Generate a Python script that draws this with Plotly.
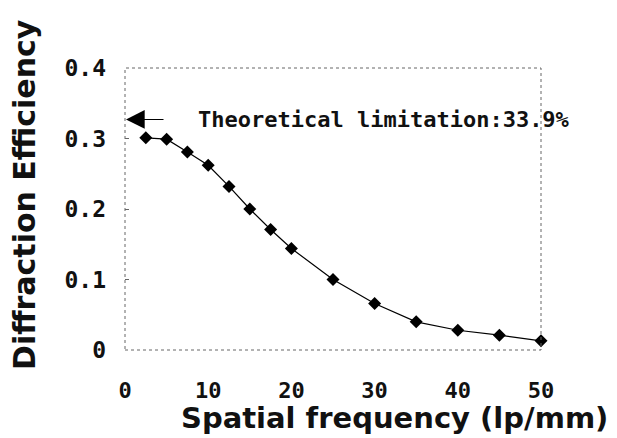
import plotly.graph_objects as go

freq = [2.5, 5, 7.5, 10, 12.5, 15, 17.5, 20, 25, 30, 35, 40, 45, 50]
efficiency = [0.301, 0.299, 0.281, 0.262, 0.232, 0.200, 0.171, 0.144, 0.100, 0.066, 0.040, 0.028, 0.021, 0.013]
x_ticks = [0, 10, 20, 30, 40, 50]
y_ticks = [0, 0.1, 0.2, 0.3, 0.4]
y_tick_labels = ["0", "0.1", "0.2", "0.3", "0.4"]
limit_y = 0.327
limit_text = "Theoretical limitation:33.9%"

mono = "DejaVu Sans Mono, monospace"
sans = "DejaVu Sans, sans-serif"

fig = go.Figure()
fig.add_trace(go.Scatter(
    x=freq, y=efficiency, mode="lines+markers",
    line=dict(color="black", width=1.2),
    marker=dict(symbol="diamond", size=10, color="black"),
    showlegend=False, cliponaxis=False,
))

fig.update_layout(
    width=617, height=438,
    margin=dict(l=125, r=76, t=68, b=88),
    paper_bgcolor="white", plot_bgcolor="white",
    xaxis=dict(range=[0, 50], tickvals=x_ticks, ticktext=[str(v) for v in x_ticks],
               showgrid=False, zeroline=False, showline=False,
               ticks="", ticklabelstandoff=25,
               tickfont=dict(family=mono, size=22, color="#111", weight="bold")),
    yaxis=dict(range=[0, 0.4], tickvals=y_ticks, ticktext=y_tick_labels,
               showgrid=False, zeroline=False, showline=False,
               ticks="inside", ticklen=4, tickcolor="#666", ticklabelstandoff=18,
               tickfont=dict(family=mono, size=23, color="#111", weight="bold")),
)

# dotted frame
fig.add_shape(type="rect", xref="paper", yref="paper", x0=0, y0=0, x1=1, y1=1,
              line=dict(color="#666", width=1, dash="dot"))

# arrow
fig.add_annotation(x=0, y=limit_y, xref="x", yref="y", ax=40, ay=0,
                   axref="pixel", ayref="pixel", text="", showarrow=True,
                   arrowhead=2, arrowsize=3.4, arrowwidth=1.1, arrowcolor="black",
                   standoff=1)
fig.add_annotation(x=8.5, y=limit_y, xref="x", yref="y", xanchor="left", yanchor="middle",
                   text=limit_text, showarrow=False,
                   font=dict(family=mono, size=22, color="#111", weight="bold"))

# axis titles
fig.add_annotation(x=(394 - 125) / 416, y=-(418 - 350) / 282, xref="paper", yref="paper",
                   xanchor="center", yanchor="middle", text="Spatial frequency (lp/mm)",
                   showarrow=False,
                   font=dict(family=sans, size=29, color="#111", weight="bold"))
fig.add_annotation(x=-(125 - 24) / 416, y=(350 - 195) / 282, xref="paper", yref="paper",
                   xanchor="center", yanchor="middle", text="Diffraction Efficiency",
                   textangle=-90, showarrow=False,
                   font=dict(family=sans, size=30, color="#111", weight="bold"))

fig.write_html("out.html", config={"displayModeBar": False},
               post_script="document.body.style.margin='0';")
